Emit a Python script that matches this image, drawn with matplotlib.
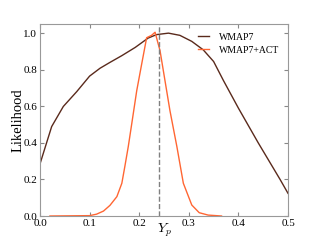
import matplotlib
matplotlib.use("Agg")
import matplotlib.pyplot as plt

# WMAP7 alone
yp_wmap = [0.0, 0.0235, 0.047, 0.074, 0.1, 0.121, 0.141, 0.165, 0.192, 0.218,
           0.235, 0.259, 0.282, 0.306, 0.329, 0.35, 0.37, 0.4, 0.44,
           0.484, 0.5]
like_wmap = [0.285, 0.489, 0.599, 0.68, 0.765, 0.808, 0.84, 0.877, 0.922, 0.973,
             0.992, 1.0, 0.988, 0.955, 0.909, 0.845, 0.74, 0.59, 0.4,
             0.2, 0.124]

# WMAP7 + ACT
yp_act = [0.02, 0.1, 0.114, 0.128, 0.141, 0.155, 0.165, 0.171, 0.178, 0.185,
          0.195, 0.205, 0.215, 0.225, 0.232, 0.242, 0.252, 0.262, 0.276, 0.289,
          0.306, 0.321, 0.339, 0.366]
like_act = [0.0, 0.002, 0.01, 0.027, 0.058, 0.106, 0.179, 0.27, 0.38, 0.505,
            0.685, 0.831, 0.975, 0.988, 1.005, 0.904, 0.74, 0.576, 0.379, 0.179,
            0.06, 0.018, 0.005, 0.0]

yp_fid = 0.24

plt.rcParams['font.family'] = 'serif'
plt.rcParams['font.serif'] = ['Liberation Serif', 'DejaVu Serif']
plt.rcParams['mathtext.fontset'] = 'cm'

fig = plt.figure(figsize=(3.2, 2.4), dpi=100)
ax = fig.add_axes([0.125, 0.1, 0.775, 0.8])

ax.plot(yp_wmap, like_wmap, color='#5a2a1c', lw=1.0, label='WMAP7')
ax.plot(yp_act, like_act, color='#ff6633', lw=1.0, label='WMAP7+ACT')
ax.axvline(yp_fid, color='grey', ls='--', lw=1.0)

ax.set_xlim(0, 0.5)
ax.set_ylim(0, 1.05)
ax.set_xticks([0.0, 0.1, 0.2, 0.3, 0.4, 0.5])
ax.set_yticks([0.0, 0.2, 0.4, 0.6, 0.8, 1.0])
ax.tick_params(direction='in', top=True, right=True, labelsize=8, length=3,
               color='#888888', pad=2)
for s in ax.spines.values():
    s.set_color('#999999')

ax.set_xlabel(r'$Y_p$', fontsize=10, labelpad=-4)
ax.set_ylabel('Likelihood', fontsize=10.5, labelpad=-1)

ax.legend(loc='upper right', frameon=False, fontsize=7, handlelength=1.2,
          handletextpad=1.0, labelspacing=0.4, borderaxespad=0.5)

fig.savefig('out.png', dpi=100)
